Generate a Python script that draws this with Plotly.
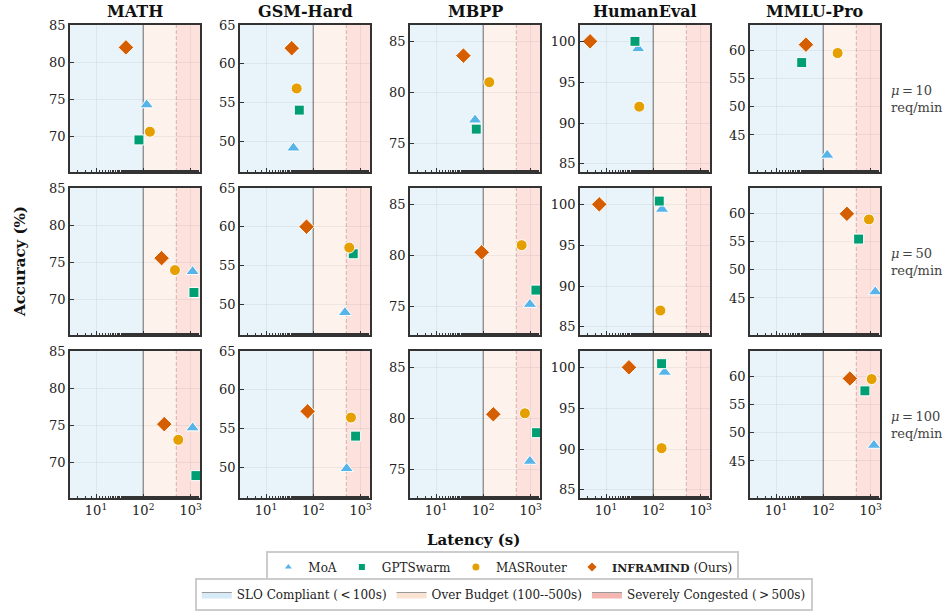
import plotly.graph_objects as go
from plotly.subplots import make_subplots

# ---------------- data ----------------
datasets = ["MATH", "GSM-Hard", "MBPP", "HumanEval", "MMLU-Pro"]
loads = [10, 50, 100]  # req/min
methods = ["MoA", "GPTSwarm", "MASRouter", "INFRAMIND"]

# latency (s), order: MATH, GSM-Hard, MBPP, HumanEval, MMLU-Pro
moa_lat_10 = [118, 38, 67, 48, 121]
moa_acc_10 = [74.3, 49.1, 77.3, 99.1, 41.4]
gpt_lat_10 = [81, 50.6, 71, 41, 35]
gpt_acc_10 = [69.6, 54.0, 76.4, 100.0, 57.9]
mas_lat_10 = [138, 44.5, 134, 50.6, 201]
mas_acc_10 = [70.7, 56.8, 81.0, 92.0, 59.6]
inf_lat_10 = [43, 35, 38, 4.6, 43]
inf_acc_10 = [82.0, 62.0, 83.6, 100.0, 61.1]

moa_lat_50 = [1107, 468, 970, 153, 1256]
moa_acc_50 = [73.8, 48.9, 75.2, 99.4, 46.1]
gpt_lat_50 = [1180, 700, 1300, 134, 560]
gpt_acc_50 = [71.0, 56.5, 76.6, 100.4, 55.5]
mas_lat_50 = [468, 577, 648, 141, 925]
mas_acc_50 = [74.0, 57.3, 81.0, 87.0, 59.0]
inf_lat_50 = [244, 72, 92.5, 7.2, 316]
inf_acc_50 = [75.6, 60.0, 80.3, 100.0, 60.0]

moa_lat_100 = [1107, 508, 970, 174, 1180]
moa_acc_100 = [74.7, 49.8, 75.8, 99.4, 47.8]
gpt_lat_100 = [1300, 787, 1340, 150, 760]
gpt_acc_100 = [68.3, 54.0, 78.6, 100.45, 57.5]
mas_lat_100 = [550, 627, 760, 150, 1055]
mas_acc_100 = [73.1, 56.4, 80.5, 90.1, 59.6]
inf_lat_100 = [278, 76, 163, 30.6, 366]
inf_acc_100 = [75.2, 57.2, 80.4, 100.0, 59.7]

y_ranges = [[65.3, 85], [46, 65], [72.2, 86.6], [84, 102], [38.4, 64.6]]
y_ticks = [[70, 75, 80, 85], [50, 55, 60, 65], [75, 80, 85], [85, 90, 95, 100], [45, 50, 55, 60]]
x_ticks = [10, 100, 1000]
x_ticktext = ["10<sup>1</sup>", "10<sup>2</sup>", "10<sup>3</sup>"]
slo_bounds = [100, 500]  # seconds
region_labels = ["SLO Compliant (\u2009<\u2009100s)", "Over Budget (100--500s)",
                 "Severely Congested (\u2009>\u2009500s)"]

series = {
    10: [(moa_lat_10, moa_acc_10), (gpt_lat_10, gpt_acc_10), (mas_lat_10, mas_acc_10), (inf_lat_10, inf_acc_10)],
    50: [(moa_lat_50, moa_acc_50), (gpt_lat_50, gpt_acc_50), (mas_lat_50, mas_acc_50), (inf_lat_50, inf_acc_50)],
    100: [(moa_lat_100, moa_acc_100), (gpt_lat_100, gpt_acc_100), (mas_lat_100, mas_acc_100), (inf_lat_100, inf_acc_100)],
}

# ---------------- style ----------------
W, H = 947, 611
FONT = "DejaVu Serif"
colors = ["#56B4E9", "#009E73", "#E69F00", "#D55E00"]
symbols = ["triangle-up", "square", "circle", "diamond"]
sizes = [12, 10, 11, 12]
legend_sizes = [6, 6, 7, 7]
region_fill = ["#E8F3FA", "#FDF3EC", "#FCE1DD"]
legend_fill = ["#D6EAF8", "#FAE3D3", "#F3B6B1"]
XLOG_RANGE = [0.45, 3.2]

col_px = [(70, 200), (240, 370), (410, 540), (580, 710), (750, 880)]
row_px = [(25, 172), (188, 335), (351, 498)]

fig = make_subplots(rows=3, cols=5)

for r, mu in enumerate(loads):
    for c, ds in enumerate(datasets):
        n = r * 5 + c + 1
        xa = "x" if n == 1 else f"x{n}"
        ya = "y" if n == 1 else f"y{n}"
        xlo = 10 ** XLOG_RANGE[0]
        xhi = 10 ** XLOG_RANGE[1]
        edges = [xlo, slo_bounds[0], slo_bounds[1], xhi]
        for k in range(3):
            fig.add_shape(type="rect", xref=xa, yref=f"{ya} domain",
                          x0=edges[k], x1=edges[k + 1], y0=0, y1=1,
                          fillcolor=region_fill[k], line_width=0, layer="below")
        fig.add_shape(type="line", xref=xa, yref=f"{ya} domain", x0=slo_bounds[0], x1=slo_bounds[0],
                      y0=0, y1=1, line=dict(color="#9a9a9a", width=1.5), layer="below")
        fig.add_shape(type="line", xref=xa, yref=f"{ya} domain", x0=slo_bounds[1], x1=slo_bounds[1],
                      y0=0, y1=1, line=dict(color="#d8b0ac", width=1, dash="4px,2px"), layer="below")
        for m in range(4):
            lat, acc = series[mu][m]
            fig.add_trace(go.Scatter(
                x=[lat[c]], y=[acc[c]], mode="markers", showlegend=False,
                marker=dict(symbol=symbols[m], size=sizes[m], color=colors[m],
                            line=dict(color="white", width=1)),
            ), row=r + 1, col=c + 1)

        x0p, x1p = col_px[c]
        y0p, y1p = row_px[r]
        axis_common = dict(showline=True, linecolor="#333333", linewidth=1.5, mirror=True,
                           ticks="inside", tickcolor="#333333", ticklen=4,
                           showgrid=True, gridcolor="rgba(0,0,0,0.05)", gridwidth=1,
                           zeroline=False, tickfont=dict(family=FONT, size=13, color="#222222"))
        fig.layout[f"xaxis{n}" if n > 1 else "xaxis"].update(
            domain=[x0p / W, x1p / W], type="log", range=XLOG_RANGE,
            tickvals=x_ticks, ticktext=x_ticktext, showticklabels=(r == 2),
            minor=dict(ticks="inside", ticklen=2, tickcolor="#333333", showgrid=False),
            **axis_common)
        fig.layout[f"yaxis{n}" if n > 1 else "yaxis"].update(
            domain=[1 - y1p / H, 1 - y0p / H], range=y_ranges[c], tickvals=y_ticks[c],
            **axis_common)

# legend-only traces
legend_names = ["MoA", "GPTSwarm", "MASRouter",
                "<span style='font-size:11px'><b>INFRAMIND</b></span> (Ours)"]
for m in range(4):
    fig.add_trace(go.Scatter(x=[None], y=[None], mode="markers", name=legend_names[m],
                             marker=dict(symbol=symbols[m], size=legend_sizes[m], color=colors[m]),
                             legend="legend"))
for k in range(3):
    fig.add_trace(go.Scatter(x=[None], y=[None], mode="lines", fill="toself", name=region_labels[k],
                             fillcolor=legend_fill[k], line=dict(color="#999999", width=1),
                             legend="legend2"))

annotations = []
for c, ds in enumerate(datasets):
    annotations.append(dict(text=f"<b>{ds}</b>", x=(col_px[c][0] + col_px[c][1]) / 2 / W, y=1 - 12 / H,
                            xref="paper", yref="paper", showarrow=False, xanchor="center", yanchor="middle",
                            font=dict(family=FONT, size=16, color="#111111")))
for r, mu in enumerate(loads):
    annotations.append(dict(text=f"<i>μ</i>\u2009=\u2009{mu}<br>req/min", x=889 / W,
                            y=1 - (row_px[r][0] + row_px[r][1]) / 2 / H,
                            xref="paper", yref="paper", showarrow=False, xanchor="left", yanchor="middle",
                            align="left", font=dict(family=FONT, size=13, color="#444444")))
annotations.append(dict(text="<b>Accuracy (%)</b>", x=20 / W, y=1 - 262 / H, xref="paper", yref="paper",
                        showarrow=False, textangle=-90, xanchor="center", yanchor="middle",
                        font=dict(family=FONT, size=15, color="#111111")))
annotations.append(dict(text="<b>Latency (s)</b>", x=474 / W, y=1 - 540 / H, xref="paper", yref="paper",
                        showarrow=False, xanchor="center", yanchor="middle",
                        font=dict(family=FONT, size=15, color="#111111")))

fig.update_layout(
    width=W, height=H, margin=dict(l=0, r=0, t=0, b=0, autoexpand=False),
    paper_bgcolor="white", plot_bgcolor="white",
    font=dict(family=FONT, size=13, color="#222222"),
    annotations=annotations,
    legend=dict(orientation="h", x=0.531, xanchor="center", y=1 - 567 / H, yanchor="middle",
                bordercolor="#cccccc", borderwidth=2, bgcolor="white", tracegroupgap=0,
                font=dict(family=FONT, size=12, color="#222222")),
    legend2=dict(orientation="h", x=0.532, xanchor="center", y=1 - 594.5 / H, yanchor="middle",
                 bordercolor="#cccccc", borderwidth=2, bgcolor="white",
                 font=dict(family=FONT, size=12, color="#222222")),
)

fig.write_html("out.html", config={"displayModeBar": False},
               post_script="document.body.style.margin='0px';")
